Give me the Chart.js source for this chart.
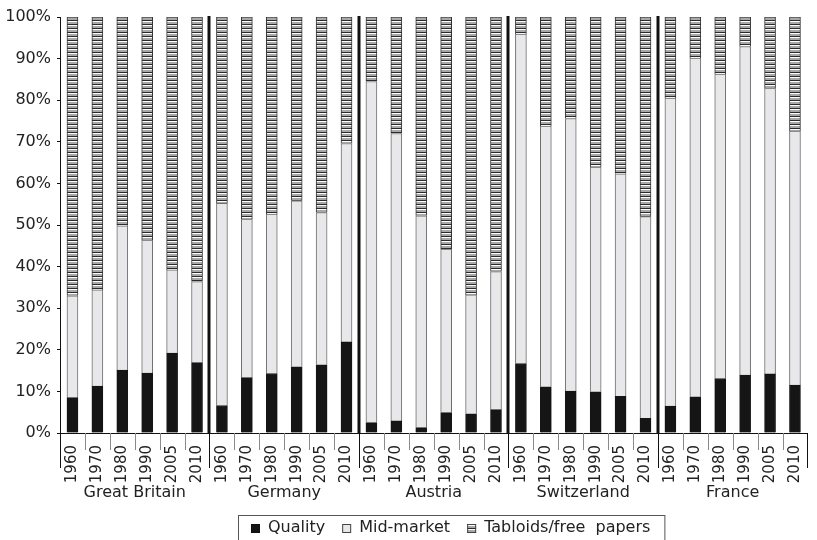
<!DOCTYPE html>
<html>
<head>
<meta charset="utf-8">
<title>Newspaper market segments</title>
<script src="https://cdn.jsdelivr.net/npm/chart.js@4.4.1/dist/chart.umd.min.js"></script>
<style>
    html, body { margin: 0; padding: 0; background: #fff; overflow: hidden; }
</style>
</head>
<body>
<canvas id="pressChart" width="817" height="540"></canvas>
<script>
// Share of circulation by segment, in percent (6 years per country)
const countries = ["Great Britain", "Germany", "Austria", "Switzerland", "France"];
const years = ["1960", "1970", "1980", "1990", "2005", "2010"];

const quality = [
    8.5, 11.3, 15.1, 14.4, 19.2, 16.9,   // Great Britain
    6.6, 13.3, 14.3, 15.9, 16.4, 21.9,   // Germany
    2.5, 2.9, 1.3, 4.9, 4.6, 5.6,        // Austria
    16.7, 11.1, 10.1, 9.9, 8.8, 3.5,     // Switzerland
    6.5, 8.7, 13.1, 13.9, 14.2, 11.5     // France
];
const midMarket = [
    24.5, 23.1, 34.7, 32.0, 20.0, 19.5,
    48.6, 38.1, 38.3, 39.9, 36.6, 47.7,
    82.0, 69.1, 50.9, 39.3, 28.6, 33.2,
    79.2, 62.7, 65.5, 54.0, 53.5, 48.5,
    74.0, 81.4, 73.2, 79.0, 68.7, 61.1
];
const tabloids = [
    67.0, 65.6, 50.2, 53.6, 60.8, 63.6,
    44.8, 48.6, 47.4, 44.2, 47.0, 30.4,
    15.5, 28.0, 47.8, 55.8, 66.8, 61.2,
    4.1, 26.2, 24.4, 36.1, 37.7, 48.0,
    19.5, 9.9, 13.7, 7.1, 17.1, 27.4
];
const yTicks = [0, 10, 20, 30, 40, 50, 60, 70, 80, 90, 100];

const yearLabels = countries.flatMap(() => years);
const fontFamily = '"DejaVu Sans", sans-serif';
const textColor = "#222";

Chart.defaults.font.family = fontFamily;
Chart.defaults.color = textColor;

const ctx = document.getElementById("pressChart").getContext("2d");

// horizontal stripes for the tabloid segment
function stripes() {
    const c = document.createElement("canvas");
    c.width = 4;
    c.height = 4;
    const g = c.getContext("2d");
    g.fillStyle = "#a8a8a8";
    g.fillRect(0, 0, 4, 4);
    g.fillStyle = "#2a2a2a";
    g.fillRect(0, 0, 4, 1);
    g.fillStyle = "#ffffff";
    g.fillRect(0, 1, 4, 1);
    return ctx.createPattern(c, "repeat");
}

// boundary x between category i-1 and i
function boundaryX(scale, i, n) {
    if (i === 0) return scale.left;
    if (i === n) return scale.right;
    return (scale.getPixelForValue(i - 1) + scale.getPixelForValue(i)) / 2;
}

// thick dividers between countries, tick marks, country names
const countryGroups = {
    id: "countryGroups",
    afterDatasetsDraw(chart) {
        const x = chart.scales.x;
        const area = chart.chartArea;
        const n = yearLabels.length;
        const c = chart.ctx;
        c.save();
        c.strokeStyle = "#111";
        c.lineWidth = 3;
        for (let i = years.length; i < n; i += years.length) {
            const px = Math.round(boundaryX(x, i, n));
            c.beginPath();
            c.moveTo(px, area.top - 1);
            c.lineTo(px, area.bottom);
            c.stroke();
        }
        c.restore();
    },
    afterDraw(chart) {
        const x = chart.scales.x;
        const area = chart.chartArea;
        const n = yearLabels.length;
        const c = chart.ctx;
        c.save();
        c.lineWidth = 1;
        for (let i = 0; i <= n; i++) {
            const isGroup = i % years.length === 0;
            const px = Math.round(boundaryX(x, i, n)) + 0.5;
            c.strokeStyle = isGroup ? "#111" : "#8a8a8a";
            c.beginPath();
            c.moveTo(px, area.bottom);
            c.lineTo(px, area.bottom + (isGroup ? 35 : 17));
            c.stroke();
        }
        c.font = "16px " + fontFamily;
        c.fillStyle = textColor;
        c.textAlign = "center";
        c.textBaseline = "middle";
        countries.forEach((name, g) => {
            const first = x.getPixelForValue(g * years.length);
            const last = x.getPixelForValue(g * years.length + years.length - 1);
            c.fillText(name, (first + last) / 2, area.bottom + 60);
        });
        c.restore();
    }
};

// framed legend under the axis, a little right of the centre
const framedLegend = {
    id: "framedLegend",
    afterDraw(chart) {
        const c = chart.ctx;
        const sets = chart.data.datasets;
        const box = 9, gap = 8, spacing = 17;
        c.save();
        c.font = "16px " + fontFamily;
        let total = 0;
        sets.forEach(ds => { total += box + gap + c.measureText(ds.label).width; });
        total += spacing * (sets.length - 1);
        let x = Math.round(451 - total / 2);
        const cy = 528;
        c.strokeStyle = "#555";
        c.lineWidth = 1;
        c.strokeRect(x - 12.5, cy - 12.5, total + 27, 30);
        sets.forEach(ds => {
            c.fillStyle = ds.backgroundColor;
            c.fillRect(x, cy - 4, box, box);
            c.strokeStyle = ds.label === "Quality" ? "#111" : "#444";
            c.strokeRect(x + 0.5, cy - 3.5, box - 1, box - 1);
            c.fillStyle = textColor;
            c.textBaseline = "middle";
            c.fillText(ds.label, x + box + gap, cy);
            x += box + gap + c.measureText(ds.label).width + spacing;
        });
        c.restore();
    }
};

new Chart(ctx, {
    type: "bar",
    data: {
        labels: yearLabels,
        datasets: [
            {
                label: "Quality",
                data: quality,
                backgroundColor: "#151515",
                borderColor: "#151515",
                borderWidth: 1,
                barThickness: 11
            },
            {
                label: "Mid-market",
                data: midMarket,
                backgroundColor: "#e8e8ea",
                borderColor: "#6e6e6e",
                borderWidth: 1,
                barThickness: 11
            },
            {
                label: "Tabloids/free  papers",
                data: tabloids,
                backgroundColor: stripes(),
                borderColor: "#333",
                borderWidth: 1,
                barThickness: 11
            }
        ]
    },
    options: {
        responsive: false,
        animation: false,
        layout: { padding: { top: 17, right: 2, left: 0, bottom: 0 } },
        plugins: {
            legend: { display: false },
            tooltip: { enabled: false }
        },
        scales: {
            x: {
                stacked: true,
                grid: { display: false },
                border: { display: true, color: "#111", width: 1 },
                ticks: {
                    autoSkip: false,
                    minRotation: 90,
                    maxRotation: 90,
                    padding: 4,
                    font: { size: 15 },
                    color: textColor
                },
                afterFit: s => { s.height = 107; }
            },
            y: {
                stacked: true,
                min: 0,
                max: 100,
                grid: { display: true, drawOnChartArea: false, tickLength: 3, color: "#111" },
                border: { display: true, color: "#111", width: 1 },
                afterBuildTicks: s => { s.ticks = yTicks.map(v => ({ value: v })); },
                ticks: {
                    padding: 6,
                    font: { size: 16 },
                    color: textColor,
                    callback: v => v + "%"
                },
                afterFit: s => { s.width = 60; }
            }
        }
    },
    plugins: [countryGroups, framedLegend]
});
</script>
</body>
</html>
